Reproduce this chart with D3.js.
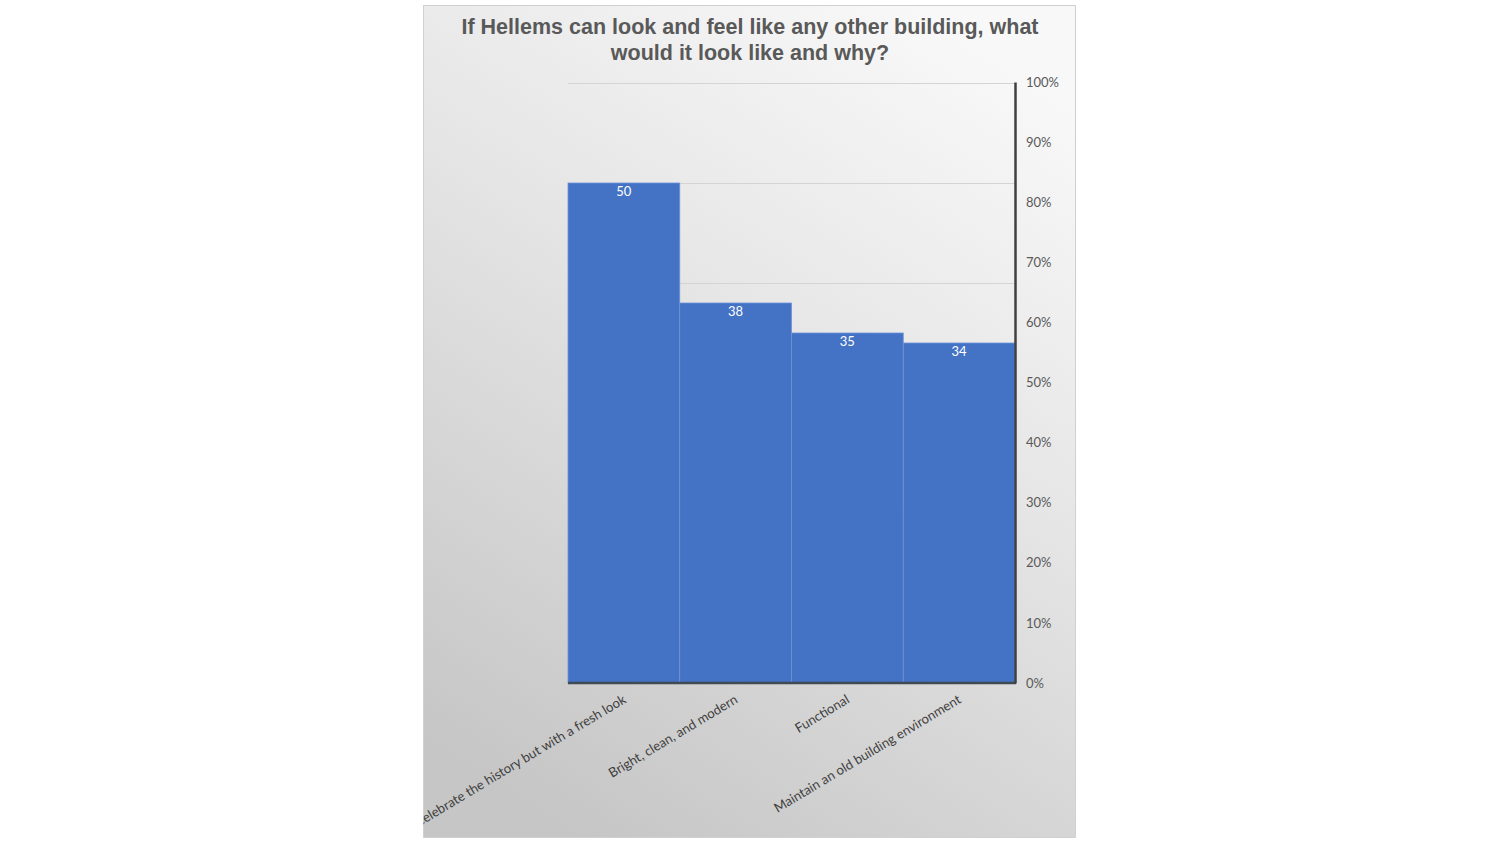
<!DOCTYPE html>
<html lang="en">
<head>
<meta charset="utf-8">
<title>Hellems building survey</title>
<script src="https://cdn.jsdelivr.net/npm/d3@7"></script>
<style>
  body { margin: 0; background: #fff; }
  svg { display: block; }
</style>
</head>
<body>
<script>
// data
var categories = ["Celebrate the history but with a fresh look", "Bright, clean, and modern", "Functional", "Maintain an old building environment"];
var counts = [50, 38, 35, 34];
var pctTicks = [0, 0.1, 0.2, 0.3, 0.4, 0.5, 0.6, 0.7, 0.8, 0.9, 1];
var countGrid = [0, 10, 20, 30, 40, 50, 60];
var titleLines = ["If Hellems can look and feel like any other building, what", "would it look like and why?"];

var W = 1500, H = 844;
var panel = {x: 423.5, y: 5.5, w: 652, h: 832};
var plot = {left: 568, right: 1015, top: 82, bottom: 683};

var svg = d3.select("body").append("svg")
    .attr("width", W)
    .attr("height", H);

// background gradient of the chart panel
var defs = svg.append("defs");
var grad = defs.append("linearGradient")
    .attr("id", "bg")
    .attr("x1", "75%").attr("y1", "0%")
    .attr("x2", "25%").attr("y2", "100%");
grad.append("stop").attr("offset", "0%").attr("stop-color", "#f8f8f8");
grad.append("stop").attr("offset", "40%").attr("stop-color", "#e6e6e6");
grad.append("stop").attr("offset", "100%").attr("stop-color", "#c6c6c6");

defs.append("clipPath").attr("id", "panelClip")
  .append("rect")
    .attr("x", panel.x).attr("y", panel.y)
    .attr("width", panel.w).attr("height", panel.h);

svg.append("rect")
    .attr("x", panel.x).attr("y", panel.y)
    .attr("width", panel.w).attr("height", panel.h)
    .attr("fill", "url(#bg)")
    .attr("stroke", "#d0d0d0")
    .attr("stroke-width", 1);

var g = svg.append("g").attr("clip-path", "url(#panelClip)");

// scales
var x = d3.scaleBand()
    .domain(categories)
    .range([plot.left, plot.right])
    .padding(0);

var y = d3.scaleLinear()
    .domain([0, 60.1])
    .range([plot.bottom, plot.top]);

var yPct = d3.scaleLinear()
    .domain([0, 1])
    .range([plot.bottom, plot.top]);

// gridlines
g.selectAll("line.grid")
    .data(countGrid)
    .enter()
    .append("line")
    .attr("class", "grid")
    .attr("x1", plot.left).attr("x2", plot.right)
    .attr("y1", function(d) { return Math.round(y(d)) + 0.5; })
    .attr("y2", function(d) { return Math.round(y(d)) + 0.5; })
    .attr("stroke", "#d4d4d4")
    .attr("stroke-width", 1);

// bars
g.selectAll("rect.bar")
    .data(counts)
    .enter()
    .append("rect")
    .attr("class", "bar")
    .attr("x", function(d, i) { return x(categories[i]); })
    .attr("y", function(d) { return y(d); })
    .attr("width", x.bandwidth())
    .attr("height", function(d) { return y(0) - y(d); })
    .attr("fill", "#4472c4")
    .attr("stroke", "#6f93d4")
    .attr("stroke-width", 0.8);

// value labels
g.selectAll("text.val")
    .data(counts)
    .enter()
    .append("text")
    .attr("class", "val")
    .attr("x", function(d, i) { return x(categories[i]) + x.bandwidth() / 2; })
    .attr("y", function(d) { return y(d) + 13; })
    .attr("text-anchor", "middle")
    .attr("font-family", "Lato, 'Open Sans', sans-serif")
    .attr("font-size", 13)
    .attr("fill", "#ffffff")
    .text(function(d) { return d; });

// bottom axis line
g.append("line")
    .attr("x1", plot.left).attr("x2", plot.right + 1)
    .attr("y1", plot.bottom).attr("y2", plot.bottom)
    .attr("stroke", "#3f4a54")
    .attr("stroke-width", 2.5);

// right percent axis
var yAxis = d3.axisRight(yPct)
    .tickValues(pctTicks)
    .tickFormat(d3.format(".0%"))
    .tickSize(0)
    .tickPadding(11);

var ax = g.append("g")
    .attr("transform", "translate(" + plot.right + ",0)")
    .call(yAxis);
ax.select(".domain")
    .attr("stroke", "#404040")
    .attr("stroke-width", 2.5);
ax.selectAll("text")
    .attr("font-family", "Lato, 'Open Sans', sans-serif")
    .attr("font-size", 13)
    .attr("fill", "#595959");

// category labels, rotated
g.selectAll("text.cat")
    .data(categories)
    .enter()
    .append("text")
    .attr("class", "cat")
    .attr("transform", function(d) {
      return "translate(" + (x(d) + x.bandwidth() / 2 + 3) + "," + (plot.bottom + 19) + ") rotate(-31)";
    })
    .attr("text-anchor", "end")
    .attr("font-family", "Lato, 'Open Sans', sans-serif")
    .attr("font-size", 13.2)
    .attr("fill", "#404040")
    .text(function(d) { return d; });

// title
svg.selectAll("text.title")
    .data(titleLines)
    .enter()
    .append("text")
    .attr("class", "title")
    .attr("x", 750)
    .attr("y", function(d, i) { return 34 + i * 26; })
    .attr("text-anchor", "middle")
    .attr("font-family", "'Liberation Sans', Arial, sans-serif")
    .attr("font-weight", "bold")
    .attr("font-size", 21.5)
    .attr("fill", "#595959")
    .text(function(d) { return d; });
</script>
</body>
</html>
